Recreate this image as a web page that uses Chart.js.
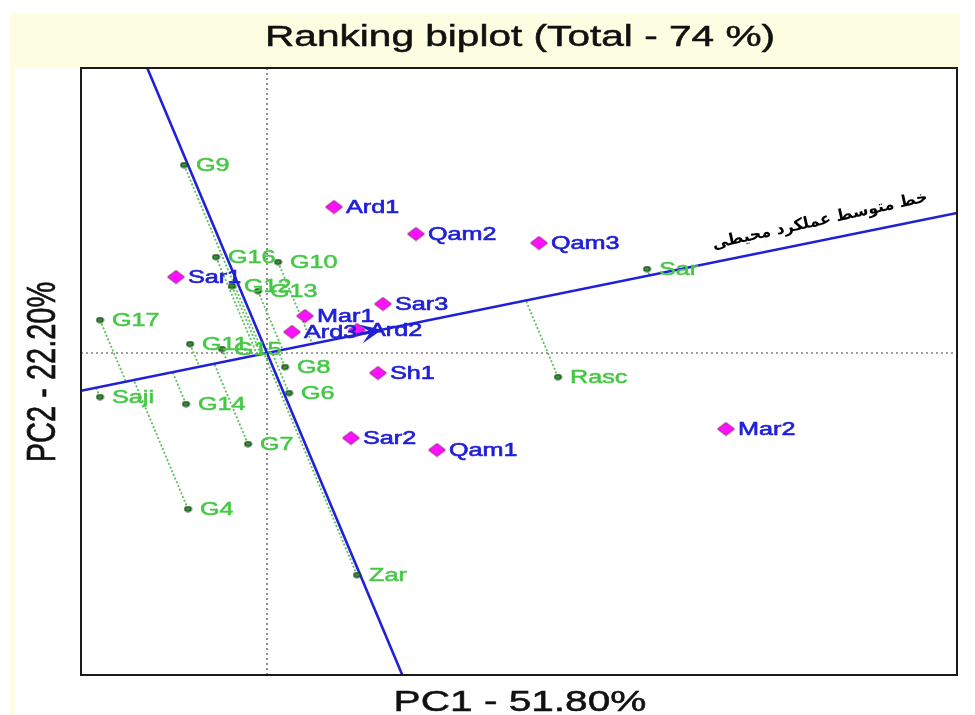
<!DOCTYPE html>
<html>
<head>
<meta charset="utf-8">
<script src="https://cdn.jsdelivr.net/npm/chart.js@4.4.1/dist/chart.umd.min.js"></script>
<style>
  body { margin: 0; background: #fff; }
  #wrap { width: 975px; height: 715px; }
</style>
</head>
<body>
<div id="wrap"><canvas id="biplot" width="975" height="715"></canvas></div>
<script>
// Environments (magenta diamonds)
const envNames = ['Ard1', 'Qam2', 'Qam3', 'Sar1', 'Sar3', 'Mar1', 'Ard3', 'Ard2', 'Sh1', 'Sar2', 'Qam1', 'Mar2'];
const envX = [0.67, 1.49, 2.72, -0.91, 1.16, 0.38, 0.25, 0.90, 1.11, 0.84, 1.70, 4.59];
const envY = [1.46, 1.19, 1.10, 0.76, 0.49, 0.37, 0.21, 0.23, -0.20, -0.85, -0.97, -0.76];

// Genotypes (small green points)
const genNames = ['G9', 'G16', 'G10', 'G12', 'G13', 'G17', 'G11', 'G15', 'G8', 'G6', 'Saji', 'G14', 'G7', 'G4', 'Sar', 'Rasc', 'Zar'];
const genX = [-0.83, -0.51, 0.11, -0.35, -0.09, -1.67, -0.77, -0.45, 0.18, 0.22, -1.67, -0.81, -0.19, -0.79, 3.80, 2.91, 0.90];
const genY = [1.88, 0.96, 0.91, 0.67, 0.62, 0.33, 0.09, 0.04, -0.14, -0.40, -0.44, -0.51, -0.91, -1.56, 0.84, -0.24, -2.22];

// Axis ranges and the two biplot lines (through the origin)
const xRange = [-1.86, 6.90];
const yRange = [-3.22, 2.85];
const aeaSlope = 0.203;    // average environment axis
const perpSlope = -2.38;   // line drawn across it
const arrowTipX = 1.15;

const titleText = 'Ranking biplot (Total - 74 %)';
const xTitle = 'PC1 - 51.80%';
const yTitle = 'PC2 - 22.20%';
const noteText = 'خط متوسط عملکرد محیطی';

const BLUE = '#2020d8';
const GREEN = '#44c844';
const STRETCH = 1.4;

// marker images (slightly wider than tall, like the picture)
function diamondImg() {
    const c = document.createElement('canvas');
    c.width = 19; c.height = 15;
    const g = c.getContext('2d');
    g.beginPath();
    g.moveTo(9.5, 1); g.lineTo(18, 7.5); g.lineTo(9.5, 14); g.lineTo(1, 7.5); g.closePath();
    g.fillStyle = '#ff10ff';
    g.fill();
    g.strokeStyle = '#8a1870';
    g.lineWidth = 1;
    g.stroke();
    return c;
}
function dotImg() {
    const c = document.createElement('canvas');
    c.width = 9; c.height = 7;
    const g = c.getContext('2d');
    g.beginPath();
    g.ellipse(4.5, 3.5, 3.3, 2.4, 0, 0, Math.PI * 2);
    g.fillStyle = '#3f8f3f';
    g.fill();
    g.strokeStyle = '#0f4a0f';
    g.lineWidth = 1.2;
    g.stroke();
    return c;
}

// foot of each genotype on the average environment axis, along the cross line direction
function footOf(px, py) {
    const fx = (py - perpSlope * px) / (aeaSlope - perpSlope);
    return { x: fx, y: aeaSlope * fx };
}

const datasets = [];

datasets.push({
    label: 'envs',
    data: envX.map((x, i) => ({ x: x, y: envY[i] })),
    pointStyle: diamondImg(),
    order: 0
});
datasets.push({
    label: 'gens',
    data: genX.map((x, i) => ({ x: x, y: genY[i] })),
    pointStyle: dotImg(),
    order: 1
});
datasets.push({
    label: 'aea',
    data: [{ x: xRange[0], y: aeaSlope * xRange[0] }, { x: xRange[1], y: aeaSlope * xRange[1] }],
    showLine: true, borderColor: BLUE, borderWidth: 2.6, pointRadius: 0, order: 2
});
datasets.push({
    label: 'perp',
    data: [{ x: yRange[1] / perpSlope, y: yRange[1] }, { x: yRange[0] / perpSlope, y: yRange[0] }],
    showLine: true, borderColor: BLUE, borderWidth: 2.6, pointRadius: 0, order: 2
});
genX.forEach((x, i) => {
    const f = footOf(x, genY[i]);
    datasets.push({
        label: 'proj ' + genNames[i],
        data: [{ x: x, y: genY[i] }, f],
        showLine: true, borderColor: '#5cc05c', borderWidth: 1.8, borderDash: [2, 2],
        pointRadius: 0, order: 3
    });
});
datasets.push({
    label: 'x0',
    data: [{ x: 0, y: yRange[0] }, { x: 0, y: yRange[1] }],
    showLine: true, borderColor: '#444', borderWidth: 1.2, borderDash: [2, 3], pointRadius: 0, order: 4
});
datasets.push({
    label: 'y0',
    data: [{ x: xRange[0], y: 0 }, { x: xRange[1], y: 0 }],
    showLine: true, borderColor: '#444', borderWidth: 1.2, borderDash: [2, 3], pointRadius: 0, order: 4
});

function stretchText(ctx, txt, x, y, heavy) {
    ctx.save();
    ctx.translate(x, y);
    ctx.scale(STRETCH, 1);
    ctx.fillText(txt, 0, 0);
    if (heavy) {
        ctx.lineWidth = heavy;
        ctx.strokeStyle = ctx.fillStyle;
        ctx.strokeText(txt, 0, 0);
    }
    ctx.restore();
}

const decor = {
    id: 'decor',
    beforeDraw(chart) {
        const ctx = chart.ctx;
        ctx.save();
        ctx.fillStyle = '#fff';
        ctx.fillRect(0, 0, chart.width, chart.height);
        ctx.fillStyle = '#fdfde2';
        ctx.fillRect(10, 14, 950, 54);
        ctx.fillRect(10, 14, 5, 701);
        ctx.restore();
    },
    afterDatasetsDraw(chart) {
        const ctx = chart.ctx;
        const xs = chart.scales.x, ys = chart.scales.y;
        ctx.save();

        // arrow head on the average environment axis
        const tx = xs.getPixelForValue(arrowTipX), ty = ys.getPixelForValue(aeaSlope * arrowTipX);
        const ox = xs.getPixelForValue(0), oy = ys.getPixelForValue(0);
        const ang = Math.atan2(ty - oy, tx - ox);
        const L = 24, spread = 0.42;
        ctx.fillStyle = BLUE;
        ctx.beginPath();
        ctx.moveTo(tx, ty);
        ctx.lineTo(tx - L * Math.cos(ang - spread), ty - L * Math.sin(ang - spread));
        ctx.lineTo(tx - 12 * Math.cos(ang), ty - 12 * Math.sin(ang));
        ctx.lineTo(tx - L * Math.cos(ang + spread), ty - L * Math.sin(ang + spread));
        ctx.closePath();
        ctx.fill();
        ctx.strokeStyle = BLUE;
        ctx.lineWidth = 3;
        ctx.beginPath();
        ctx.moveTo(tx - 26 * Math.cos(ang), ty - 26 * Math.sin(ang));
        ctx.lineTo(tx, ty);
        ctx.stroke();

        // point labels
        ctx.font = '18px "Liberation Sans", Arial, sans-serif';
        ctx.textBaseline = 'middle';
        ctx.textAlign = 'left';
        ctx.fillStyle = GREEN;
        genNames.forEach((n, i) => {
            stretchText(ctx, n, xs.getPixelForValue(genX[i]) + 12, ys.getPixelForValue(genY[i]) + 1, 0.5);
        });
        ctx.fillStyle = BLUE;
        envNames.forEach((n, i) => {
            stretchText(ctx, n, xs.getPixelForValue(envX[i]) + 12, ys.getPixelForValue(envY[i]) + 1, 0.6);
        });
        ctx.restore();
    },
    afterDraw(chart) {
        const ctx = chart.ctx;
        const a = chart.chartArea;
        ctx.save();
        ctx.strokeStyle = '#1a1a1a';
        ctx.lineWidth = 2;
        ctx.strokeRect(a.left, a.top, a.right - a.left, a.bottom - a.top);

        ctx.fillStyle = '#111';
        ctx.font = '29px "Liberation Sans", Arial, sans-serif';
        ctx.textAlign = 'center';
        ctx.textBaseline = 'alphabetic';
        stretchText(ctx, titleText, 520, 46, 0.5);
        stretchText(ctx, xTitle, 520, 711, 0.5);

        ctx.save();
        ctx.translate(55, 372);
        ctx.scale(STRETCH, 1);
        ctx.rotate(-Math.PI / 2);
        ctx.fillText(yTitle, 0, 0);
        ctx.lineWidth = 0.5;
        ctx.strokeStyle = '#111';
        ctx.strokeText(yTitle, 0, 0);
        ctx.restore();

        // persian note along the axis
        ctx.save();
        ctx.translate(820, 221);
        ctx.rotate(-12.5 * Math.PI / 180);
        ctx.font = 'bold 16px "DejaVu Sans", sans-serif';
        ctx.fillStyle = '#000';
        ctx.textAlign = 'center';
        ctx.textBaseline = 'middle';
        ctx.fillText(noteText, 0, 0);
        ctx.restore();
        ctx.restore();
    }
};

new Chart(document.getElementById('biplot'), {
    type: 'scatter',
    data: { datasets: datasets },
    options: {
        responsive: false,
        animation: false,
        layout: { padding: { left: 81, right: 18, top: 68, bottom: 40 } },
        scales: {
            x: { type: 'linear', min: xRange[0], max: xRange[1], display: false },
            y: { type: 'linear', min: yRange[0], max: yRange[1], display: false }
        },
        plugins: {
            legend: { display: false },
            tooltip: { enabled: false }
        }
    },
    plugins: [decor]
});
</script>
</body>
</html>
